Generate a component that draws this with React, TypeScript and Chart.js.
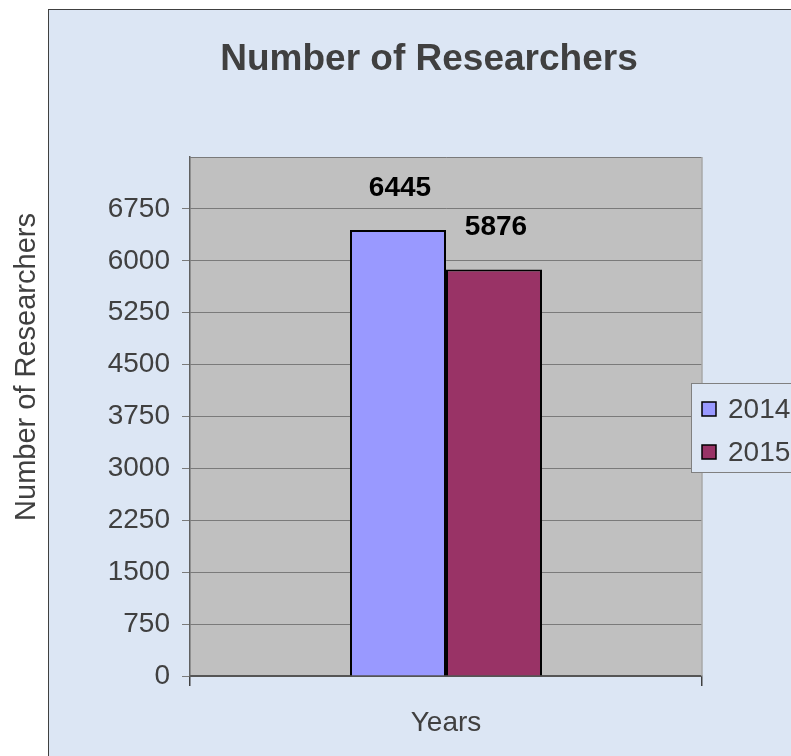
import React, { useEffect, useRef } from 'react';
import { Chart, registerables } from 'chart.js';

Chart.register(...registerables);

const categories = ['Years'];
const seriesNames = ['2014', '2015'];
const values2014 = [6445];
const values2015 = [5876];
const seriesColors = ['#9999ff', '#993366'];
const yMax = 7500;
const yStep = 750;
const chartTitle = 'Number of Researchers';
const yAxisTitle = 'Number of Researchers';

const FONT = "'Liberation Sans', Arial, sans-serif";
const TEXT = '#404040';
const BOX_BG = '#dce6f4';

const decorPlugin = {
  id: 'decor',
  beforeDraw(chart: any) {
    const { ctx, chartArea } = chart;
    ctx.save();
    ctx.fillStyle = '#ffffff';
    ctx.fillRect(0, 0, chart.width, chart.height);
    ctx.fillStyle = BOX_BG;
    ctx.fillRect(48, 9, chart.width, chart.height);
    ctx.strokeStyle = '#404040';
    ctx.lineWidth = 1;
    ctx.strokeRect(48.5, 9.5, chart.width + 10, chart.height + 10);
    ctx.fillStyle = '#c0c0c0';
    ctx.fillRect(chartArea.left, chartArea.top, chartArea.right - chartArea.left, chartArea.bottom - chartArea.top);
    ctx.restore();
  },
  afterDraw(chart: any) {
    const { ctx, chartArea } = chart;
    ctx.save();
    // right plot edge
    ctx.strokeStyle = '#a8a8a8';
    ctx.lineWidth = 1.5;
    ctx.beginPath();
    ctx.moveTo(chartArea.right, chartArea.top);
    ctx.lineTo(chartArea.right, chartArea.bottom);
    ctx.stroke();

    // data labels
    ctx.fillStyle = '#000000';
    ctx.font = `bold 28px ${FONT}`;
    ctx.textAlign = 'center';
    ctx.textBaseline = 'middle';
    chart.data.datasets.forEach((ds: any, i: number) => {
      const meta = chart.getDatasetMeta(i);
      meta.data.forEach((el: any, j: number) => {
        ctx.fillText(String(ds.data[j]), el.x + 2, el.y - 42);
      });
    });

    // title
    ctx.fillStyle = TEXT;
    ctx.font = `bold 37px ${FONT}`;
    ctx.textAlign = 'center';
    ctx.textBaseline = 'alphabetic';
    ctx.fillText(chartTitle, 429, 70);

    // y axis title
    ctx.save();
    ctx.translate(35, 367);
    ctx.rotate(-Math.PI / 2);
    ctx.font = `29px ${FONT}`;
    ctx.textAlign = 'center';
    ctx.textBaseline = 'alphabetic';
    ctx.fillText(yAxisTitle, 0, 0);
    ctx.restore();

    // legend
    ctx.fillStyle = BOX_BG;
    ctx.fillRect(691, 383, chart.width, 89);
    ctx.strokeStyle = '#808080';
    ctx.lineWidth = 1;
    ctx.strokeRect(691.5, 383.5, chart.width, 89);
    const rows = [409, 452];
    chart.data.datasets.forEach((ds: any, i: number) => {
      const cy = rows[i];
      ctx.fillStyle = ds.backgroundColor;
      ctx.fillRect(702, cy - 7, 14, 14);
      ctx.strokeStyle = '#000000';
      ctx.lineWidth = 1.5;
      ctx.strokeRect(702, cy - 7, 14, 14);
      ctx.fillStyle = TEXT;
      ctx.font = `28px ${FONT}`;
      ctx.textAlign = 'left';
      ctx.textBaseline = 'middle';
      ctx.fillText(ds.label, 728, cy + 1);
    });
    ctx.restore();
  },
};

export default function App() {
  const ref = useRef<HTMLCanvasElement>(null);
  useEffect(() => {
    const chart = new Chart(ref.current as HTMLCanvasElement, {
      type: 'bar',
      data: {
        labels: categories,
        datasets: [
          { label: seriesNames[0], data: values2014, backgroundColor: seriesColors[0], borderColor: '#000000', borderWidth: 2 },
          { label: seriesNames[1], data: values2015, backgroundColor: seriesColors[1], borderColor: '#000000', borderWidth: 2 },
        ],
      },
      options: {
        responsive: false,
        animation: false,
        devicePixelRatio: 1,
        layout: { padding: { left: 48, top: 157, right: 89, bottom: 0 } },
        datasets: { bar: { barPercentage: 1, categoryPercentage: 0.375 } },
        plugins: { legend: { display: false }, title: { display: false }, tooltip: { enabled: false } },
        scales: {
          x: {
            type: 'category',
            offset: true,
            afterFit(scale: any) { scale.height = 80; },
            grid: { drawOnChartArea: false, drawTicks: true, tickLength: 10, offset: true, color: '#404040', lineWidth: 1.5 },
            border: { display: true, color: '#555555', width: 2 },
            ticks: { color: TEXT, font: { family: FONT, size: 28 }, padding: 20, maxRotation: 0 },
          },
          y: {
            min: 0,
            max: yMax,
            afterFit(scale: any) { scale.width = 142; },
            grid: {
              color: '#7a7a7a',
              lineWidth: 1,
              tickLength: 8,
              tickColor: (c: any) => (c.tick && c.tick.value === yMax ? 'rgba(0,0,0,0)' : '#7a7a7a'),
            },
            border: { display: true, color: '#606060', width: 1.5 },
            ticks: {
              stepSize: yStep,
              color: TEXT,
              font: { family: FONT, size: 28 },
              padding: 12,
              callback: (v: any) => (Number(v) === yMax ? '' : String(v)),
            },
          },
        },
      },
      plugins: [decorPlugin],
    } as any);
    return () => chart.destroy();
  }, []);
  return (
    <div style={{ position: 'absolute', left: 0, top: 0, width: 791, height: 756, overflow: 'hidden' }}>
      <canvas ref={ref} width={791} height={756} style={{ display: 'block', width: 791, height: 756 }} />
    </div>
  );
}
